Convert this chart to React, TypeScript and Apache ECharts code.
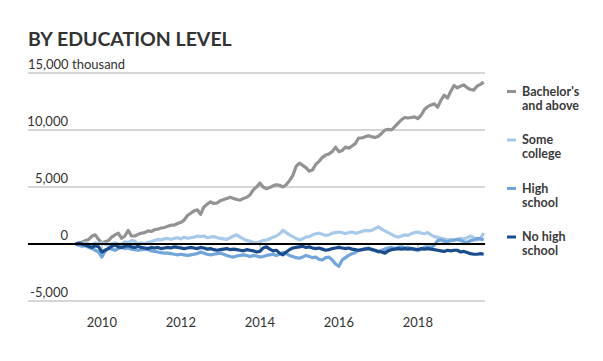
import { useEffect, useRef } from 'react';
import * as echarts from 'echarts';

// First month of data (May 2009), monthly through Sep 2019
const firstYear = 2009;
const firstMonth = 5;

const seriesNames = ["Bachelor's\nand above", 'Some\ncollege', 'High\nschool', 'No high\nschool'];
const seriesColors = ['#939393', '#a7c9ea', '#72a5d9', '#1b4d8e'];

const bachelors = [
  0, 100, 150, 300, 400, 700, 800, 400,
  100, 200, 300, 600, 800, 950, 500, 700, 1200, 700, 700, 850,
  950, 1000, 1150, 1100, 1250, 1300, 1400, 1450, 1550, 1650, 1650, 1800,
  1900, 2100, 2500, 2700, 2900, 3000, 2600, 3250, 3500, 3700, 3550, 3600,
  3800, 3900, 4000, 4100, 4000, 3900, 3850, 4000, 4100, 4300, 4750, 5000,
  5350, 5000, 4850, 4950, 5100, 5200, 5150, 5000, 5200, 5550, 6000, 6800,
  7100, 6900, 6700, 6400, 6500, 7000, 7250, 7600, 7800, 7900, 8100, 8500,
  8100, 8200, 8500, 8400, 8600, 8800, 9300, 9300, 9400, 9500, 9400, 9350,
  9450, 9700, 10000, 10050, 10000, 10300, 10600, 10900, 11100, 11050, 11100, 11150,
  11000, 11300, 11800, 12050, 12200, 12300, 12000, 12600, 13050, 12800, 13400, 13900,
  13700, 13850, 13950, 13700, 13550, 13500, 13850, 14000, 14200,
];

const someCollege = [
  0, 0, 50, 100, 0, -100, 100, 0,
  100, 0, -100, 0, 100, 0, -50, 200, 100, 300, 250, 0,
  100, 0, 150, 200, 300, 400, 350, 450, 500, 400, 500, 550,
  450, 600, 500, 550, 600, 700, 650, 700, 550, 600, 650, 550,
  500, 450, 400, 550, 700, 800, 600, 450, 300, 250, 150, 100,
  200, 300, 350, 450, 600, 700, 900, 1200, 1000, 800, 650, 500,
  350, 450, 600, 650, 800, 900, 950, 850, 750, 800, 950, 1000,
  1050, 1000, 900, 1000, 1050, 950, 1000, 1100, 1200, 1150, 1200, 1350,
  1500, 1300, 1150, 1000, 850, 700, 600, 700, 800, 750, 900, 1000,
  1050, 950, 900, 1000, 800, 650, 600, 500, 450, 350, 400, 300,
  400, 500, 450, 550, 700, 550, 350, 500, 950,
];

const highSchool = [
  0, -100, -200, -150, -300, -400, -550, -700,
  -1150, -600, -350, -450, -550, -400, -300, -400, -350, -450, -500, -550,
  -500, -450, -500, -600, -650, -700, -750, -800, -800, -850, -900, -950,
  -900, -950, -1000, -950, -900, -850, -700, -800, -900, -950, -900, -850,
  -800, -900, -1000, -1100, -1150, -1050, -1000, -950, -1000, -1100, -1000, -1050,
  -1150, -1100, -1000, -950, -900, -1000, -900, -750, -850, -1000, -1100, -1200,
  -1250, -1150, -1000, -1100, -1200, -1150, -1350, -1400, -1200, -1150, -1400, -1750,
  -1950, -1400, -1200, -1000, -850, -750, -550, -500, -400, -350, -450, -600,
  -700, -550, -450, -350, -300, -400, -300, -250, -350, -300, -400, -500,
  -550, -450, -300, -250, -300, -100, 300, 350, 250, 200, 300, 350,
  400, 300, 200, 150, 300, 350, 500, 450, 350,
];

const noHighSchool = [
  0, 50, 0, -100, -200, -300, -150, -250,
  -700, -550, -400, -200, -100, -250, -300, -200, -150, -250, -300, -200,
  -300, -350, -400, -300, -350, -300, -400, -350, -300, -350, -250, -300,
  -350, -400, -350, -300, -350, -400, -300, -350, -450, -400, -500, -550,
  -500, -450, -400, -500, -450, -500, -550, -600, -500, -550, -600, -700,
  -650, -350, -250, -450, -600, -550, -800, -950, -700, -500, -350, -300,
  -250, -200, -300, -250, -350, -400, -350, -450, -550, -500, -400, -350,
  -300, -350, -400, -350, -450, -500, -550, -500, -450, -400, -500, -550,
  -650, -700, -800, -600, -500, -450, -400, -450, -400, -450, -400, -450,
  -500, -400, -450, -400, -450, -500, -550, -600, -650, -550, -600, -550,
  -550, -700, -650, -750, -850, -900, -900, -850, -900,
];

const seriesValues = [bachelors, someCollege, highSchool, noHighSchool];

const yTicks = [-5000, 0, 5000, 10000, 15000];
const xTickYears = [2010, 2012, 2014, 2016, 2018];
const topLabel = '15,000 thousand';
const titleText = 'BY EDUCATION LEVEL';

const FONT = 'Lato, "Noto Sans", sans-serif';

export default function App() {
  const ref = useRef<HTMLDivElement>(null);

  useEffect(() => {
    if (!ref.current) return;
    const chart = echarts.init(ref.current, undefined, { renderer: 'svg' });

    const toX = (i: number) => firstYear + (firstMonth - 1 + i) / 12;

    const series: any[] = seriesValues.map((vals, s) => ({
      type: 'line',
      name: seriesNames[s].replace('\n', ' '),
      data: vals.map((v, i) => [toX(i), v]),
      showSymbol: false,
      symbol: 'none',
      lineStyle: { color: seriesColors[s], width: 3.2, join: 'round' },
      itemStyle: { color: seriesColors[s] },
      z: 3 + s,
    }));
    series[series.length - 1].markLine = {
      silent: true,
      symbol: ['none', 'none'],
      label: { show: false },
      lineStyle: { color: '#000', width: 2, type: 'solid' },
      data: [{ yAxis: 0 }],
      z: 10,
    };

    const legendGraphics: any[] = [];
    seriesNames.forEach((name, s) => {
      const y0 = 91 + s * 48.5;
      legendGraphics.push({
        type: 'rect',
        shape: { x: 507, y: y0 - 1, width: 9, height: 3 },
        style: { fill: seriesColors[s] },
      });
      name.split('\n').forEach((line, l) => {
        legendGraphics.push({
          type: 'text',
          x: 522,
          y: y0 + l * 14,
          style: {
            text: line,
            fontFamily: FONT,
            fontSize: 12.5,
            fontWeight: 'bold',
            fill: '#3a3a3a',
            verticalAlign: 'middle',
            align: 'left',
          },
        });
      });
    });

    chart.setOption({
      animation: false,
      grid: { left: 28, right: 118, top: 73, bottom: 60 },
      xAxis: {
        type: 'value',
        min: 2008.13,
        max: 2019.7,
        axisLine: { show: true, lineStyle: { color: '#c8c8c8', width: 1.5 } },
        axisTick: {
          show: true,
          length: 5,
          lineStyle: { color: '#c8c8c8', width: 1.5 },
          customValues: xTickYears,
        },
        axisLabel: {
          customValues: xTickYears,
          formatter: (v: number) => String(Math.round(v)),
          color: '#333',
          fontSize: 13,
          fontFamily: FONT,
          margin: 14,
        },
        splitLine: { show: false },
      },
      yAxis: {
        type: 'value',
        min: yTicks[0],
        max: yTicks[yTicks.length - 1],
        interval: 5000,
        axisLine: { show: false },
        axisTick: { show: false },
        splitLine: { lineStyle: { color: '#c8c8c8', width: 1.5 } },
        axisLabel: {
          inside: true,
          margin: 40,
          align: 'right',
          verticalAlign: 'bottom',
          padding: [0, 0, 3, 0],
          color: '#333',
          fontSize: 13,
          fontFamily: FONT,
          formatter: (v: number) => (v === 15000 ? '' : v.toLocaleString('en-US')),
        },
      },
      graphic: [
        {
          type: 'text',
          x: 28,
          y: 38,
          style: {
            text: titleText,
            fontFamily: FONT,
            fontSize: 19.5,
            fontWeight: 'bold',
            fill: '#333',
            verticalAlign: 'middle',
          },
        },
        {
          type: 'text',
          x: 28,
          y: 64,
          style: {
            text: topLabel,
            fontFamily: FONT,
            fontSize: 13,
            fill: '#333',
            verticalAlign: 'middle',
          },
        },
        ...legendGraphics,
      ],
      series,
    });

    return () => chart.dispose();
  }, []);

  return (
    <div
      ref={ref}
      style={{ position: 'fixed', left: 0, top: 0, width: 603, height: 361, background: '#fff' }}
    />
  );
}
